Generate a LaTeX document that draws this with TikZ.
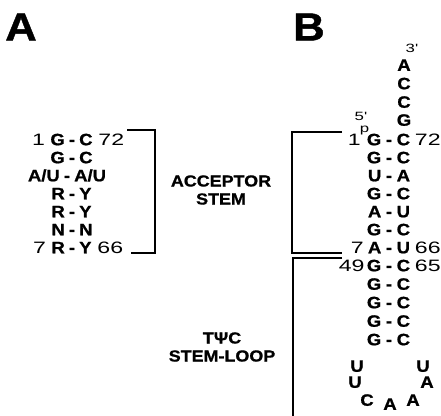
\documentclass[tikz,border=0pt]{standalone}
\usepackage{fontspec}
\setmainfont{Liberation Sans}[FakeStretch=1.12, BoldFeatures={FakeBold=1}]
\newfontfamily\numfont{Liberation Sans}[FakeStretch=1.4]
\usetikzlibrary{positioning}
\newcommand{\AU}{A/U}

\begin{document}
\begin{tikzpicture}[
    x=1pt, y=-1pt,
    nuc/.style={inner sep=0pt, font=\fontsize{16.5}{16.5}\selectfont\bfseries, text height=11.5pt, text depth=0pt},
    posnum/.style={inner sep=0pt, font=\fontsize{16.5}{16.5}\numfont, text height=11.5pt, text depth=0pt},
    endlabel/.style={inner sep=0pt, font=\fontsize{12}{12}\numfont},
    region/.style={inner sep=0pt, align=center, font=\fontsize{16}{18}\selectfont\bfseries},
    panel/.style={inner sep=0pt, font=\fontsize{39}{39}\selectfont\bfseries},
    bracket/.style={line width=1.1pt}
]
    \useasboundingbox (0,0) rectangle (441,415);

    \node[panel] (panelA) at (21,27) {A};
    \node[panel] (panelB) at (309,27) {B};

    % consensus acceptor stem
    \foreach \l/\r/\dx [count=\i] in {G/C/72, G/C/72, \AU/\AU/67, R/Y/72, R/Y/72, N/N/72, R/Y/72} {
        \node[nuc, anchor=east] (lA\i) at (\dx-7, 121.5+18*\i) {\l};
        \node[nuc] (dA\i) at (\dx, 121.5+18*\i) {-};
        \node[nuc, anchor=west] (rA\i) at (\dx+7, 121.5+18*\i) {\r};
    }
    \node[posnum, left=5pt of lA1] (n1A) {1};
    \node[posnum, right=5.5pt of rA1] (n72A) {72};
    \node[posnum, left=5pt of lA7] (n7A) {7};
    \node[posnum, right=5.5pt of rA7] (n66A) {66};

    \coordinate (accA1) at (127,130);
    \coordinate (accA2) at (155,130);
    \coordinate (accA3) at (155,253);
    \coordinate (accA4) at (131,253);
    \draw[bracket] (accA1) -- (accA2) -- (accA3) -- (accA4);

    \node[region] (accepLbl) at (221,190) {ACCEPTOR\\STEM};
    \node[region] (tpscLbl) at (222,347) {T\char"03A8 C\\STEM-LOOP};

    % 3' end
    \foreach \b/\y [count=\i] in {A/65, C/83.5, C/102, G/120} {
        \node[nuc] (tail\i) at (404,\y) {\b};
    }
    \node[endlabel] (end3) at (412,48) {3'};
    \node[endlabel] (end5) at (361,116) {5'};

    % acceptor stem
    \foreach \l/\r [count=\i] in {G/C, G/C, U/A, G/C, A/U, G/C, A/U} {
        \node[nuc, anchor=east] (lB\i) at (381.5, 121.5+18*\i) {\l};
        \node[nuc] (dB\i) at (389, 121.5+18*\i) {-};
        \node[nuc, anchor=west] (rB\i) at (396.5, 121.5+18*\i) {\r};
    }
    \node[endlabel] (phos) at (364.5,131) {p};
    \node[posnum, anchor=east] (n1B) at (361,139.5) {1};
    \node[posnum, right=4.5pt of rB1] (n72B) {72};
    \node[posnum, anchor=east] (n7B) at (364,247.5) {7};
    \node[posnum, right=4.5pt of rB7] (n66B) {66};

    % T-psi-C stem and loop
    \foreach \i in {1,...,5} {
        \node[nuc, anchor=east] (lT\i) at (381.5, 247+18.5*\i) {G};
        \node[nuc] (dT\i) at (389, 247+18.5*\i) {-};
        \node[nuc, anchor=west] (rT\i) at (396.5, 247+18.5*\i) {C};
    }
    \node[posnum, left=2pt of lT1] (n49T) {49};
    \node[posnum, right=4.5pt of rT1] (n65T) {65};
    \foreach \b/\x/\y [count=\i] in {U/357/366, U/355/382, C/367/400, A/390/404, A/413/400, A/427/382, U/423/366} {
        \node[nuc] (loop\i) at (\x,\y) {\b};
    }

    \coordinate (accB1) at (342,132);
    \coordinate (accB2) at (292,132);
    \coordinate (accB3) at (292,253);
    \coordinate (accB4) at (342,253);
    \draw[bracket] (accB1) -- (accB2) -- (accB3) -- (accB4);
    \coordinate (tpsc1) at (342,258);
    \coordinate (tpsc2) at (293,258);
    \coordinate (tpsc3) at (293,420);
    \draw[bracket] (tpsc1) -- (tpsc2) -- (tpsc3);
\end{tikzpicture}
\end{document}
